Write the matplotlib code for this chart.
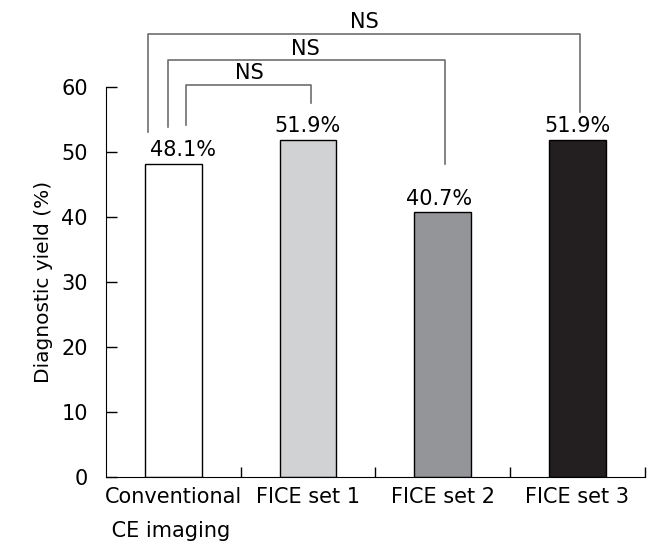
import matplotlib
matplotlib.use("Agg")
import matplotlib.pyplot as plt

categories = ["Conventional\n CE imaging", "FICE set 1", "FICE set 2", "FICE set 3"]
values = [48.1, 51.9, 40.7, 51.9]
value_labels = ["48.1%", "51.9%", "40.7%", "51.9%"]
bar_colors = ["#ffffff", "#d1d2d4", "#939598", "#231f20"]
yticks = [0, 10, 20, 30, 40, 50, 60]
# brackets: (x_left, x_right, y_top, y_left_bottom, y_right_bottom, label_x)
brackets = [
    (-0.186, 3.02, 68.2, 53.0, 56.2, 1.42),
    (-0.042, 2.015, 64.1, 53.9, 48.1, 0.98),
    (0.095, 1.02, 60.3, 54.2, 57.6, 0.565),
]
bracket_text = ["NS", "NS", "NS"]
label_offsets = [0.075, 0.0, -0.03, 0.0]

FS = 15
plt.rcParams['font.family'] = ['DejaVu Sans']
fig = plt.figure(figsize=(6.56, 5.59), dpi=100)
ax = fig.add_axes([0.1616, 0.1467, 0.821, 0.6977])

x = list(range(len(categories)))
ax.bar(x, values, width=0.42, color=bar_colors, edgecolor="black", linewidth=1.0, zorder=2)
for xi, v, lab, off in zip(x, values, value_labels, label_offsets):
    ax.text(xi + off, v + 0.6, lab, ha="center", va="bottom", fontsize=FS)

ax.set_xlim(-0.5, 3.5)
ax.set_ylim(0, 60)
ax.set_yticks(yticks)
ax.set_yticklabels([str(t) for t in yticks], fontsize=FS)
ax.set_xticks(x)
ax.set_xticklabels(categories, fontsize=FS, multialignment="left", linespacing=1.9)
ax.set_xticks([0.5, 1.5, 2.5, 3.5], minor=True)
ax.tick_params(axis="x", which="major", length=0, pad=7)
ax.tick_params(axis="x", which="minor", direction="in", length=7, width=1)
ax.tick_params(axis="y", direction="in", length=8, width=1, pad=13)
ax.spines["top"].set_visible(False)
ax.spines["right"].set_visible(False)
ax.set_ylabel("Diagnostic yield (%)", fontsize=14.5, labelpad=6)

for (xl, xr, yt, ylb, yrb, lx), t in zip(brackets, bracket_text):
    ax.plot([xl, xl, xr, xr], [ylb, yt, yt, yrb], color="#6d6e71", lw=1.2,
            clip_on=False, zorder=3)
    ax.text(lx, yt + 0.25, t, ha="center", va="bottom", fontsize=FS, clip_on=False)

fig.savefig("out.png", dpi=100)
